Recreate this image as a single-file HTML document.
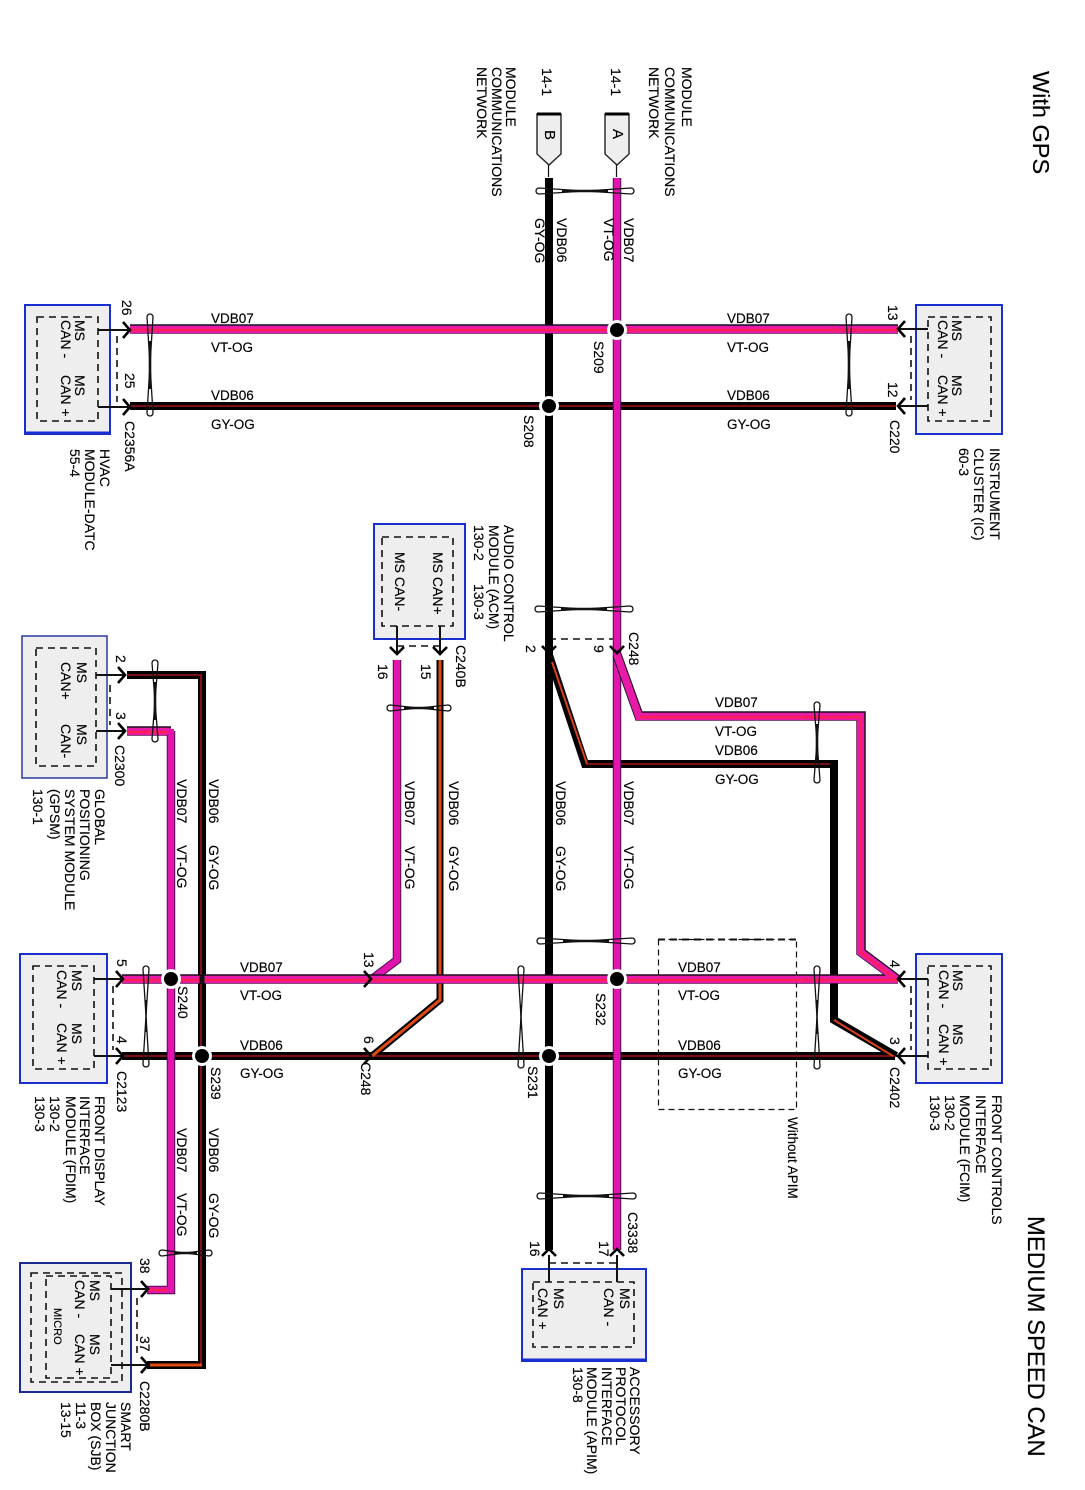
<!DOCTYPE html>
<html><head><meta charset="utf-8"><style>
html,body{margin:0;padding:0;background:#fff;width:1085px;height:1490px;overflow:hidden}
svg{display:block}
text{font-family:"Liberation Sans",sans-serif;font-size:14px;fill:#000;stroke:#000;stroke-width:.15}
.up text{font-size:13.5px}
.box{fill:#eee;stroke:#1a2fd0;stroke-width:2}
.d{fill:none;stroke:#111;stroke-width:1.6;stroke-dasharray:7 5}
.s{fill:none;stroke:#111;stroke-width:2}
.a{fill:none;stroke:#000;stroke-width:2.6}
.tw{fill:none;stroke:#111;stroke-width:1.3}
.tc{fill:none;stroke:#111;stroke-width:2.6}
</style></head><body>
<svg width="1085" height="1490" viewBox="0 0 1085 1490" xmlns="http://www.w3.org/2000/svg">
<rect width="1085" height="1490" fill="#fff"/>

<!-- boxes -->
<rect class="box" x="25" y="305" width="85" height="129"/><path d="M25 433H110" stroke="#1a2fd0" stroke-width="3"/>
<rect class="box" x="916" y="305" width="86" height="129"/>
<rect class="box" x="374" y="524" width="91" height="115"/>
<rect class="box" x="22" y="636" width="85" height="142" style="stroke:#2a3a9a;stroke-width:1.5"/>
<rect class="box" x="20" y="954" width="87" height="129"/>
<rect class="box" x="916" y="954" width="86" height="129"/>
<rect class="box" x="20" y="1263" width="111" height="129" style="stroke:#1a2a90"/>
<rect class="box" x="522" y="1269" width="124" height="92"/><path d="M522 1360H646" stroke="#1a2fd0" stroke-width="3"/>

<!-- dashed inner -->
<rect class="d" x="37" y="317" width="61" height="104"/>
<rect class="d" x="928" y="317" width="63" height="104"/>
<rect class="d" x="382" y="537" width="71" height="89"/>
<rect class="d" x="36" y="648" width="60" height="118"/>
<rect class="d" x="33" y="966" width="61" height="103"/>
<rect class="d" x="928" y="966" width="63" height="103"/>
<rect class="d" x="31" y="1273" width="91" height="109"/>
<rect class="d" x="46" y="1276" width="65" height="102"/>
<rect class="d" x="533" y="1282" width="101" height="65"/>
<rect x="658.500" y="939.500" width="138" height="170" fill="none" stroke="#111" stroke-width="1.2" stroke-dasharray="6 4"/>
<path d="M658 939.500H796" fill="none" stroke="#111" stroke-width="2" stroke-dasharray="7 5"/>

<!-- dashed connector links -->
<path class="d" d="M117 336V402M911 336V400M397 646H440M549 639H617M110 685V725M113 986V1050M911 986V1050M137 1298V1356M549 1263H617"/>

<!-- stubs -->
<path class="s" d="M98 330H128M98 407H128M928 329H899M928 406H900M397 626V655M440 626V655M96 675H124M96 731H124M94 979H121M94 1056H122M928 979H898M928 1056H896M111 1289H146M111 1365H146M549 1282V1255M617 1282V1255"/>
<path d="M616.500 154V177M548.500 154V177" stroke="#111" stroke-width="1.2"/>

<!-- connector flags -->
<path d="M605 114H629V154L617 165L605 154Z" fill="#eee" stroke="#222" stroke-width="1.4"/><path d="M605 114H629" stroke="#000" stroke-width="3"/>
<path d="M537 114H561V154L549 165L537 154Z" fill="#eee" stroke="#222" stroke-width="1.4"/><path d="M537 114H561" stroke="#000" stroke-width="3"/>

<!-- black wires -->
<path fill="none" stroke="#000" stroke-width="8" d="M549 178V1250"/>
<g fill="none" stroke-linejoin="miter">
<path stroke="#000" stroke-width="8" d="M130 406H896M122 1056H895M549 655L585 764H834V1020L896 1056M127 675H202V1365H147"/>
<path stroke="#000" stroke-width="7" d="M440 660V1000L372 1056"/>
<path stroke="#a51515" stroke-width="1.6" d="M130 406H896M122 1056H895M127 675H201V1365M587 764H830"/>
<path stroke="#d8401c" stroke-width="2" d="M552 662L587 764M834 1020L893 1056"/>
<path stroke="#e04a12" stroke-width="3" d="M440 660V1000L372 1056M202 1365H150"/>
</g>

<!-- magenta wires -->
<g fill="none" stroke-linejoin="miter">
<path stroke="#4a1050" stroke-width="8.500" d="M617 178V1250M171 731V1290H147M397 660V960L372 979"/>
<path stroke="#e214ae" stroke-width="6.500" d="M617 178V1250M171 731V1290H147M397 660V960L372 979"/>
<path stroke="#1a1020" stroke-width="9.500" d="M130 329H898M122 979H898M617 655L639 716H861V952L897 979M127 731H171"/>
<path stroke="#e81aa8" stroke-width="7.500" d="M130 329.500H898M122 979.500H898M617 655L639 716.500H860.500V952L897 979.500M127 731.500H171"/>
<path stroke="#ff1f55" stroke-width="2.500" d="M130 330H898M122 980H898M640 717H860.500V952L894 978M127 732H169M148 1290H168"/>
<path stroke="#e214ae" stroke-width="6" d="M171 729V738"/>
<path stroke="#111" stroke-width="5" d="M202 974.500V984"/>
</g>

<!-- junctions -->
<g fill="#fff"><circle cx="617" cy="330" r="10"/><circle cx="549" cy="406" r="10"/><circle cx="617" cy="979" r="10"/><circle cx="549" cy="1056" r="10"/><circle cx="171" cy="979" r="10"/><circle cx="202" cy="1056" r="10"/></g>
<g fill="#000"><circle cx="617" cy="330" r="7"/><circle cx="549" cy="406" r="7"/><circle cx="617" cy="979" r="7"/><circle cx="549" cy="1056" r="7"/><circle cx="171" cy="979" r="7"/><circle cx="202" cy="1056" r="7"/></g>

<!-- arrowheads -->
<path class="a" d="M123 322L130 330L123 338M123 399L130 407L123 415M905 321L898 329L905 337M905 398L898 406L905 414M390 647L397 654L404 647M433 647L440 654L447 647M542 646L549 653L556 646M610 646L617 653L624 646M118 667L125 675L118 683M118 723L125 731L118 739M116 971L123 979L116 987M116 1048L123 1056L116 1064M905 971L898 979L905 987M905 1048L898 1056L905 1064M141 1281L148 1289L141 1297M141 1357L148 1365L141 1373M542 1256L549 1249L556 1256M610 1256L617 1249L624 1256M364 971L371 979L364 987M364 1048L371 1056L364 1064"/>

<!-- twists -->
<path class="tw" d="M147 317a3 3 0 0 1 6 0L150 365ZM147 413a3 3 0 0 0 6 0L150 365Z"/>
<path class="tw" d="M846 317a3 3 0 0 1 6 0L849 365ZM846 413a3 3 0 0 0 6 0L849 365Z"/>
<path class="tw" d="M814 705a3 3 0 0 1 6 0L817 742ZM814 780a3 3 0 0 0 6 0L817 742Z"/>
<path class="tw" d="M518 969a3 3 0 0 1 6 0L521 1017ZM518 1065a3 3 0 0 0 6 0L521 1017Z"/>
<path class="tw" d="M143 969a3 3 0 0 1 6 0L146 1016ZM143 1064a3 3 0 0 0 6 0L146 1016Z"/>
<path class="tw" d="M814 969a3 3 0 0 1 6 0L817 1017ZM814 1066a3 3 0 0 0 6 0L817 1017Z"/>
<path class="tw" d="M152 663a3 3 0 0 1 6 0L155 701ZM152 739a3 3 0 0 0 6 0L155 701Z"/>
<path class="tw" d="M539 188a3 3 0 0 0 0 6L585 191ZM631 188a3 3 0 0 1 0 6L585 191Z"/>
<path class="tw" d="M538 606a3 3 0 0 0 0 6L584 609ZM630 606a3 3 0 0 1 0 6L584 609Z"/>
<path class="tw" d="M390 705a3 3 0 0 0 0 6L419 708ZM448 705a3 3 0 0 1 0 6L419 708Z"/>
<path class="tw" d="M540 938a3 3 0 0 0 0 6L586 941ZM632 938a3 3 0 0 1 0 6L586 941Z"/>
<path class="tw" d="M540 1193a3 3 0 0 0 0 6L586 1196ZM633 1193a3 3 0 0 1 0 6L586 1196Z"/>
<path class="tw" d="M162 1250a3 3 0 0 0 0 6L185 1253ZM209 1250a3 3 0 0 1 0 6L185 1253Z"/>
<path class="tc" d="M150 341V389M849 341V389M817 724V761M155 682V720M562 191H608M561 609H607M404 708H434M563 941H609M563 1196H609M174 1253H197"/>
<path d="M146 1000V1032M521 1005V1029M817 1000V1034" stroke="#111" stroke-width="1.4" fill="none"/>

<!-- upright labels -->
<g class="up">
<text x="211" y="323">VDB07</text><text x="211" y="352">VT-OG</text><text x="211" y="400">VDB06</text><text x="211" y="429">GY-OG</text>
<text x="727" y="323">VDB07</text><text x="727" y="352">VT-OG</text><text x="727" y="400">VDB06</text><text x="727" y="429">GY-OG</text>
<text x="715" y="707">VDB07</text><text x="715" y="736">VT-OG</text><text x="715" y="755">VDB06</text><text x="715" y="784">GY-OG</text>
<text x="240" y="972">VDB07</text><text x="240" y="1000">VT-OG</text><text x="240" y="1050">VDB06</text><text x="240" y="1078">GY-OG</text>
<text x="678" y="972">VDB07</text><text x="678" y="1000">VT-OG</text><text x="678" y="1050">VDB06</text><text x="678" y="1078">GY-OG</text>
</g>

<!-- rotated labels: x = page y, y = -(page x) -->
<g transform="translate(2 0) rotate(90)">
<text x="71" y="-1031" style="font-size:23.500px">With GPS</text>
<text x="1216" y="-1026" style="font-size:23.800px">MEDIUM SPEED CAN</text>

<text x="67" y="-504">MODULE</text><text x="67" y="-490">COMMUNICATIONS</text><text x="67" y="-475">NETWORK</text>
<text x="67" y="-680">MODULE</text><text x="67" y="-663">COMMUNICATIONS</text><text x="67" y="-647">NETWORK</text>
<text x="68" y="-540">14-1</text><text x="68" y="-609">14-1</text>
<text x="129" y="-611" style="font-size:15px">A</text><text x="130" y="-543" style="font-size:15px">B</text>

<text x="218" y="-622">VDB07</text><text x="218" y="-602">VT-OG</text><text x="218" y="-555">VDB06</text><text x="218" y="-533">GY-OG</text>
<text x="781" y="-622">VDB07</text><text x="846" y="-622">VT-OG</text><text x="781" y="-554">VDB06</text><text x="846" y="-554">GY-OG</text>
<text x="781" y="-403">VDB07</text><text x="846" y="-403">VT-OG</text><text x="781" y="-447">VDB06</text><text x="846" y="-447">GY-OG</text>
<text x="779" y="-175">VDB07</text><text x="845" y="-175">VT-OG</text><text x="779" y="-207">VDB06</text><text x="845" y="-207">GY-OG</text>
<text x="1128" y="-175">VDB07</text><text x="1193" y="-175">VT-OG</text><text x="1128" y="-207">VDB06</text><text x="1193" y="-207">GY-OG</text>

<text x="341" y="-592">S209</text><text x="415" y="-522">S208</text><text x="993" y="-594">S232</text><text x="1066" y="-526">S231</text><text x="986" y="-176">S240</text><text x="1067" y="-209">S239</text>

<!-- HVAC -->
<text x="320" y="-73">MS</text><text x="320" y="-59">CAN -</text><text x="375" y="-73">MS</text><text x="375" y="-59">CAN +</text>
<text x="300" y="-120">26</text><text x="373" y="-123">25</text><text x="421" y="-123">C2356A</text>
<text x="449" y="-98">HVAC</text><text x="449" y="-83">MODULE-DATC</text><text x="449" y="-68">55-4</text>

<!-- IC -->
<text x="320" y="-950">MS</text><text x="320" y="-936">CAN -</text><text x="375" y="-950">MS</text><text x="375" y="-936">CAN +</text>
<text x="305" y="-886">13</text><text x="382" y="-886">12</text><text x="420" y="-888">C220</text>
<text x="448" y="-988">INSTRUMENT</text><text x="448" y="-972">CLUSTER (IC)</text><text x="448" y="-957">60-3</text>

<!-- ACM -->
<text x="552" y="-431">MS CAN+</text><text x="552" y="-393">MS CAN-</text>
<text x="664" y="-376">16</text><text x="664" y="-419">15</text><text x="645" y="-454">C240B</text>
<text x="525" y="-502">AUDIO CONTROL</text><text x="525" y="-487">MODULE (ACM)</text><text x="525" y="-472">130-2</text><text x="584" y="-472">130-3</text>
<text x="632" y="-627">C248</text><text x="645" y="-524">2</text><text x="645" y="-592">9</text>

<!-- GPSM -->
<text x="662" y="-75">MS</text><text x="662" y="-59">CAN+</text><text x="724" y="-75">MS</text><text x="724" y="-59">CAN-</text>
<text x="655" y="-114">2</text><text x="712" y="-114">3</text><text x="745" y="-113">C2300</text>
<text x="789" y="-93">GLOBAL</text><text x="789" y="-78">POSITIONING</text><text x="789" y="-63">SYSTEM MODULE</text><text x="789" y="-48">(GPSM)</text><text x="789" y="-31">130-1</text>

<!-- FDIM -->
<text x="970" y="-70">MS</text><text x="970" y="-55">CAN -</text><text x="1023" y="-70">MS</text><text x="1023" y="-55">CAN +</text>
<text x="959" y="-115">5</text><text x="1036" y="-115">4</text><text x="1071" y="-115">C2123</text>
<text x="1096" y="-93">FRONT DISPLAY</text><text x="1096" y="-78">INTERFACE</text><text x="1096" y="-64">MODULE (FDIM)</text><text x="1096" y="-48">130-2</text><text x="1096" y="-33">130-3</text>
<text x="952" y="-362">13</text><text x="1036" y="-362">6</text><text x="1062" y="-359">C248</text>

<!-- FCIM -->
<text x="970" y="-951">MS</text><text x="970" y="-937">CAN -</text><text x="1024" y="-951">MS</text><text x="1024" y="-937">CAN +</text>
<text x="960" y="-888">4</text><text x="1037" y="-888">3</text><text x="1067" y="-888">C2402</text>
<text x="1095" y="-990">FRONT CONTROLS</text><text x="1095" y="-974">INTERFACE</text><text x="1095" y="-958">MODULE (FCIM)</text><text x="1095" y="-943">130-2</text><text x="1095" y="-928">130-3</text>
<text x="1117" y="-786" style="font-size:13.500px">Without APIM</text>

<!-- SJB -->
<text x="1280" y="-88">MS</text><text x="1280" y="-73">CAN -</text><text x="1334" y="-88">MS</text><text x="1334" y="-73">CAN +</text>
<text x="1308" y="-52" style="font-size:11px">MICRO</text>
<text x="1258" y="-138">38</text><text x="1336" y="-138">37</text><text x="1381" y="-138">C2280B</text>
<text x="1402" y="-119">SMART</text><text x="1402" y="-104">JUNCTION</text><text x="1402" y="-89">BOX (SJB)</text><text x="1402" y="-74">11-3</text><text x="1402" y="-59">13-15</text>

<!-- APIM -->
<text x="1288" y="-552">MS</text><text x="1288" y="-536">CAN +</text><text x="1288" y="-618">MS</text><text x="1288" y="-602">CAN -</text>
<text x="1241" y="-528">16</text><text x="1241" y="-597">17</text><text x="1212" y="-626">C3338</text>
<text x="1367" y="-628">ACCESSORY</text><text x="1367" y="-614">PROTOCOL</text><text x="1367" y="-600">INTERFACE</text><text x="1367" y="-585">MODULE (APIM)</text><text x="1367" y="-571">130-8</text>
</g>
</svg>
</body></html>
